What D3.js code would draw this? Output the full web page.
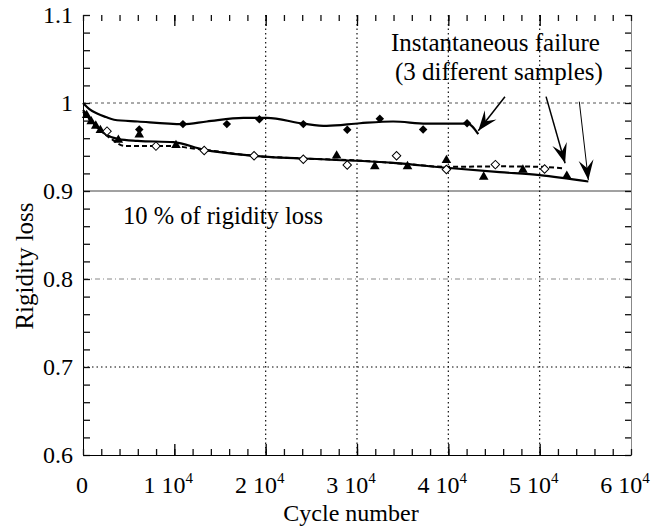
<!DOCTYPE html>
<html>
<head>
<meta charset="utf-8">
<script src="https://cdn.jsdelivr.net/npm/d3@7"></script>
<style>
  body { margin: 0; background: #fff; }
</style>
</head>
<body>
<div id="chart"></div>
<script>
// Tick labels
var xTickValues = [0, 10000, 20000, 30000, 40000, 50000, 60000];
var xTickMantissa = ["0", "1", "2", "3", "4", "5", "6"];
var yTickValues = [0.6, 0.7, 0.8, 0.9, 1, 1.1];
var yTickLabels = ["0.6", "0.7", "0.8", "0.9", "1", "1.1"];

// Sample 1 (filled diamonds) and its fitted curve
var sample1Points = [[6160, 0.970], [10940, 0.976], [15750, 0.976], [19310, 0.9815],
  [24120, 0.976], [28930, 0.9695], [32500, 0.982], [37240, 0.970], [42050, 0.977]];
var sample1Fit = [[0, 1.0], [700, 0.993], [1540, 0.988], [2500, 0.984], [3400, 0.981],
  [6000, 0.979], [10940, 0.976], [13560, 0.979], [17560, 0.983], [20120, 0.983],
  [24120, 0.9766], [26680, 0.974], [30320, 0.977], [33960, 0.979], [37600, 0.9766],
  [41610, 0.9766], [42050, 0.977], [43280, 0.9645]];

// Sample 2 (filled triangles) and its fitted curve
var sample2Points = [[400, 0.986], [900, 0.979], [1400, 0.974], [1900, 0.969],
  [3870, 0.958], [6160, 0.964], [10180, 0.952], [27770, 0.940], [31950, 0.928],
  [35530, 0.928], [39790, 0.935], [43870, 0.916], [48160, 0.924], [52970, 0.917]];
var sample2Fit = [[0, 0.992], [800, 0.982], [1600, 0.972], [2400, 0.965], [3900, 0.959],
  [6000, 0.957], [9910, 0.9555], [13190, 0.947], [18660, 0.940], [26680, 0.9358],
  [33960, 0.932], [39790, 0.9264], [45620, 0.9214], [50000, 0.918], [55330, 0.9108]];

// Sample 3 (open diamonds) and its fitted curve (dashed)
var sample3Points = [[2630, 0.968], [7990, 0.951], [13270, 0.946], [18730, 0.940],
  [24120, 0.936], [28930, 0.9295], [34330, 0.940], [39790, 0.9245], [45150, 0.930],
  [50540, 0.925]];
var sample3Fit = [[0, 0.99], [1000, 0.978], [2000, 0.968], [3000, 0.96], [4630, 0.951],
  [10100, 0.951], [11500, 0.949], [13190, 0.947], [18660, 0.940], [24000, 0.937],
  [29960, 0.9347], [35000, 0.931], [39790, 0.9275], [45620, 0.928], [50000, 0.9275],
  [52720, 0.9256]];

// Annotation arrows: [tail, head] in data units
var failureArrows = [
  [[46200, 1.0072], [43280, 0.9685]],
  [[50700, 1.0072], [52780, 0.9315]],
  [[54340, 1.0015], [55330, 0.9125]]
];
var arrowWidths = [1.5, 1.5, 1];

// Define SVG area dimensions
var svgWidth = 667;
var svgHeight = 528;
var serif = "Liberation Serif";

var chartMargin = { top: 15, right: 36, bottom: 73, left: 83 };

var chartWidth = svgWidth - chartMargin.left - chartMargin.right;
var chartHeight = svgHeight - chartMargin.top - chartMargin.bottom;

var svg = d3.select("#chart")
  .append("svg")
  .attr("width", svgWidth)
  .attr("height", svgHeight);

var chartGroup = svg.append("g")
  .attr("transform", `translate(${chartMargin.left}, ${chartMargin.top})`);

// Scales
var xLinearScale = d3.scaleLinear().domain([0, 60000]).range([0, chartWidth]);
var yLinearScale = d3.scaleLinear().domain([0.6, 1.1]).range([chartHeight, 0]);

// Grid lines
var hGrid = [
  { v: 1.0, dash: "3,3", color: "#555" },
  { v: 0.9, dash: null, color: "#444" },
  { v: 0.8, dash: "5,3,1,3", color: "#888" },
  { v: 0.7, dash: "1.5,3", color: "#000" }
];
chartGroup.selectAll(".hgrid")
  .data(hGrid)
  .enter()
  .append("line")
  .attr("x1", 0)
  .attr("x2", chartWidth)
  .attr("y1", d => yLinearScale(d.v))
  .attr("y2", d => yLinearScale(d.v))
  .attr("stroke", d => d.color)
  .attr("stroke-width", 1)
  .attr("stroke-dasharray", d => d.dash);

chartGroup.selectAll(".vgrid")
  .data([20000, 30000, 40000, 50000])
  .enter()
  .append("line")
  .attr("x1", d => xLinearScale(d))
  .attr("x2", d => xLinearScale(d))
  .attr("y1", 0)
  .attr("y2", chartHeight)
  .attr("stroke", "#111")
  .attr("stroke-width", 1.2)
  .attr("stroke-dasharray", "1.5,3");

// Tick marks on all four sides, pointing inward
function styleTicks(g, color) {
  g.selectAll(".tick line").attr("stroke", color).attr("stroke-width", 1.3);
  g.selectAll(".tick text").remove();
}

var leftAxis = chartGroup.append("g")
  .call(d3.axisLeft(yLinearScale).ticks(25).tickSizeInner(-7).tickSizeOuter(0).tickFormat(""));
leftAxis.select(".domain").attr("stroke", "#000");
styleTicks(leftAxis, "#111");

var rightAxis = chartGroup.append("g")
  .attr("transform", `translate(${chartWidth}, 0)`)
  .call(d3.axisRight(yLinearScale).ticks(25).tickSizeInner(-6).tickSizeOuter(0).tickFormat(""));
rightAxis.select(".domain").attr("stroke", "#888");
styleTicks(rightAxis, "#111");

var topAxis = chartGroup.append("g")
  .call(d3.axisTop(xLinearScale).ticks(30).tickSizeInner(-6).tickSizeOuter(0).tickFormat(""));
topAxis.select(".domain").remove();
styleTicks(topAxis, "#111");

var topMajor = chartGroup.append("g")
  .call(d3.axisTop(xLinearScale).tickValues(xTickValues.slice(1, 6)).tickSizeInner(-11).tickSizeOuter(0).tickFormat(""));
topMajor.select(".domain").remove();
styleTicks(topMajor, "#000");

var bottomAxis = chartGroup.append("g")
  .attr("transform", `translate(0, ${chartHeight})`)
  .call(d3.axisBottom(xLinearScale).ticks(30).tickSizeInner(-6).tickSizeOuter(0).tickFormat(""));
bottomAxis.select(".domain").attr("stroke", "#000");
styleTicks(bottomAxis, "#111");

var bottomMajor = chartGroup.append("g")
  .attr("transform", `translate(0, ${chartHeight})`)
  .call(d3.axisBottom(xLinearScale).tickValues(xTickValues.slice(1, 6)).tickSizeInner(-11).tickSizeOuter(0).tickFormat(""));
bottomMajor.select(".domain").remove();
styleTicks(bottomMajor, "#000");

// Y tick labels
var yLabels = chartGroup.append("g")
  .call(d3.axisLeft(yLinearScale).tickValues(yTickValues).tickSize(0).tickPadding(10)
    .tickFormat((d, i) => yTickLabels[i]));
yLabels.select(".domain").remove();
yLabels.selectAll("text")
  .attr("fill", "#000")
  .attr("font-family", serif)
  .attr("font-size", 24);

// X tick labels, "n 10^4"
var xLabels = chartGroup.selectAll(".xlabel")
  .data(xTickValues)
  .enter()
  .append("text")
  .attr("x", (d, i) => xLinearScale(d) - (i === 0 ? 1 : 6))
  .attr("y", chartHeight + 38)
  .attr("text-anchor", "middle")
  .attr("font-family", serif)
  .attr("font-size", 24);

xLabels.each(function(d, i) {
  var t = d3.select(this);
  if (i === 0) {
    t.text(xTickMantissa[i]);
    return;
  }
  t.append("tspan").text(xTickMantissa[i] + " 10");
  t.append("tspan").attr("dy", -10).attr("font-size", 15).text("4");
});

// Axis titles
svg.append("text")
  .attr("x", chartMargin.left + chartWidth / 2 - 6)
  .attr("y", 521)
  .attr("text-anchor", "middle")
  .attr("font-family", serif)
  .attr("font-size", 24)
  .text("Cycle number");

svg.append("text")
  .attr("transform", "translate(33, 266) rotate(-90)")
  .attr("text-anchor", "middle")
  .attr("font-family", serif)
  .attr("font-size", 25)
  .text("Rigidity loss");

// Fitted curves
var line = d3.line()
  .x(d => xLinearScale(d[0]))
  .y(d => yLinearScale(d[1]))
  .curve(d3.curveMonotoneX);

chartGroup.append("path")
  .attr("d", line(sample3Fit))
  .attr("fill", "none")
  .attr("stroke", "#000")
  .attr("stroke-width", 2)
  .attr("stroke-dasharray", "5,3");

chartGroup.append("path")
  .attr("d", line(sample2Fit))
  .attr("fill", "none")
  .attr("stroke", "#000")
  .attr("stroke-width", 2.2);

chartGroup.append("path")
  .attr("d", line(sample1Fit))
  .attr("fill", "none")
  .attr("stroke", "#000")
  .attr("stroke-width", 2.2);

// Data points
var diamond = d3.symbol().type(d3.symbolSquare).size(36);
var triangle = d3.symbol().type(d3.symbolTriangle).size(40);

chartGroup.selectAll(".s1")
  .data(sample1Points)
  .enter()
  .append("path")
  .attr("d", diamond)
  .attr("transform", d => `translate(${xLinearScale(d[0])}, ${yLinearScale(d[1])}) rotate(45)`)
  .attr("fill", "#000");

chartGroup.selectAll(".s2")
  .data(sample2Points)
  .enter()
  .append("path")
  .attr("d", triangle)
  .attr("transform", d => `translate(${xLinearScale(d[0])}, ${yLinearScale(d[1])})`)
  .attr("fill", "#000");

chartGroup.selectAll(".s3")
  .data(sample3Points)
  .enter()
  .append("path")
  .attr("d", diamond)
  .attr("transform", d => `translate(${xLinearScale(d[0])}, ${yLinearScale(d[1])}) rotate(45)`)
  .attr("fill", "#fff")
  .attr("stroke", "#000")
  .attr("stroke-width", 1);

// Annotations
chartGroup.append("text")
  .attr("x", 40)
  .attr("y", 209)
  .attr("font-family", serif)
  .attr("font-size", 24.5)
  .text("10 % of rigidity loss");

chartGroup.append("text")
  .attr("x", 308)
  .attr("y", 36)
  .attr("font-family", serif)
  .attr("font-size", 25)
  .text("Instantaneous failure");

chartGroup.append("text")
  .attr("x", 312)
  .attr("y", 65)
  .attr("font-family", serif)
  .attr("font-size", 25)
  .text("(3 different samples)");

// Arrowhead marker
svg.append("defs").append("marker")
  .attr("id", "head")
  .attr("viewBox", "-22 -9 24 18")
  .attr("refX", 0)
  .attr("refY", 0)
  .attr("markerUnits", "userSpaceOnUse")
  .attr("markerWidth", 24)
  .attr("markerHeight", 18)
  .attr("orient", "auto")
  .append("path")
  .attr("d", "M0,0 L-20,-7.5 L-12,0 L-20,7.5 Z")
  .attr("fill", "#000");

chartGroup.selectAll(".arrow")
  .data(failureArrows)
  .enter()
  .append("line")
  .attr("x1", d => xLinearScale(d[0][0]))
  .attr("y1", d => yLinearScale(d[0][1]))
  .attr("x2", d => xLinearScale(d[1][0]))
  .attr("y2", d => yLinearScale(d[1][1]))
  .attr("stroke", "#000")
  .attr("stroke-width", (d, i) => arrowWidths[i])
  .attr("marker-end", "url(#head)");
</script>
</body>
</html>
